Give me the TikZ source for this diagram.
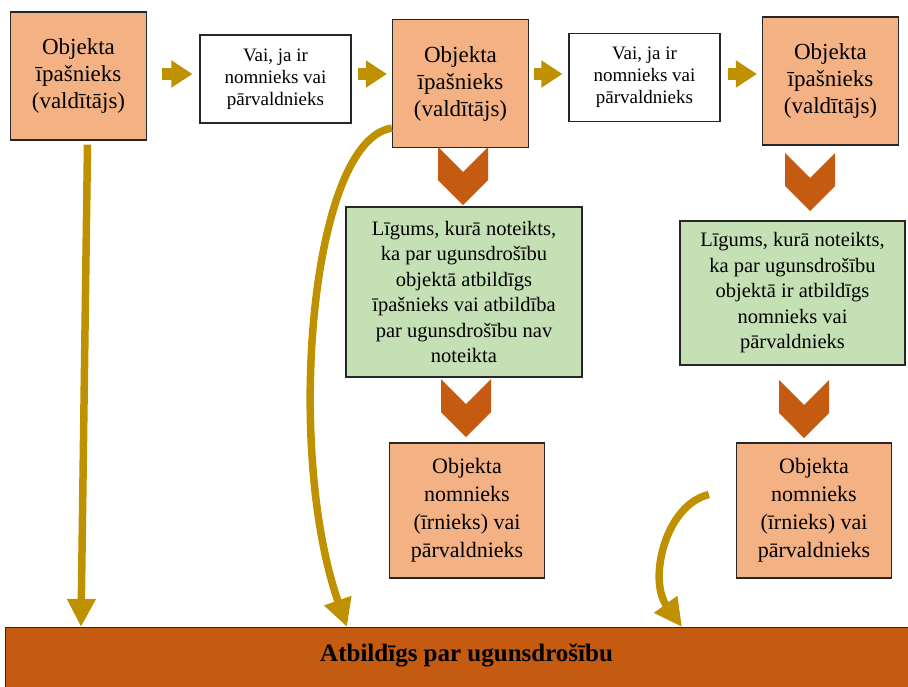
\documentclass[tikz,border=0pt]{standalone}
\usepackage{fontspec}
\setmainfont{Liberation Serif}
\usetikzlibrary{arrows.meta,shapes.symbols}

\definecolor{peach}{HTML}{F4B183}
\definecolor{sage}{HTML}{C5E0B4}
\definecolor{rust}{HTML}{C55A11}
\definecolor{mustard}{HTML}{BF9000}

\tikzset{
  box/.style={draw=black!85, line width=1.2pt, align=center, inner sep=0pt},
  owner/.style={box, fill=peach, minimum width=136pt, minimum height=128pt, font=\fontsize{23}{27}\selectfont},
  tenant/.style={box, fill=peach, minimum width=155pt, minimum height=135pt, font=\fontsize{22}{28}\selectfont},
  ifbox/.style={box, fill=white, minimum width=151pt, minimum height=88pt, font=\fontsize{19}{22}\selectfont},
  deal/.style={box, fill=sage, font=\fontsize{20.5}{25.5}\selectfont},
  chev/.style={signal, signal to=south, signal from=north, fill=rust, inner sep=0pt, minimum width=50pt, minimum height=8pt},
  nextarrow/.style={mustard, line width=12pt, -{Triangle[length=21pt,width=26pt]}},
  goldarc/.style={mustard, line width=7.5pt, -{Triangle[length=28pt,width=27pt]}}
}

\begin{document}
\begin{tikzpicture}[x=1pt, y=-1pt]
\useasboundingbox (0,0) rectangle (908,686);

% top row
\node[owner] (owner1) at (78.5,76) {Objekta\\īpašnieks\\(valdītājs)};
\node[ifbox] (ifrent1) at (275.5,79) {Vai, ja ir\\nomnieks vai\\pārvaldnieks};
\node[owner] (owner2) at (460.5,83.5) {Objekta\\īpašnieks\\(valdītājs)};
\node[ifbox] (ifrent2) at (644.5,77.5) {Vai, ja ir\\nomnieks vai\\pārvaldnieks};
\node[owner] (owner3) at (830.5,81) {Objekta\\īpašnieks\\(valdītājs)};

% contracts and tenants
\node[deal, minimum width=236pt, minimum height=170pt] (deal1) at (464,292)
  {Līgums, kurā noteikts,\\ka par ugunsdrošību\\objektā atbildīgs\\īpašnieks vai atbildība\\par ugunsdrošību nav\\noteikta};
\node[deal, minimum width=225pt, minimum height=144pt] (deal2) at (792.5,293)
  {Līgums, kurā noteikts,\\ka par ugunsdrošību\\objektā ir atbildīgs\\nomnieks vai\\pārvaldnieks};
\node[tenant] (tenant1) at (467,510.5) {Objekta\\nomnieks\\(īrnieks) vai\\pārvaldnieks};
\node[tenant] (tenant2) at (814,510.5) {Objekta\\nomnieks\\(īrnieks) vai\\pārvaldnieks};

% bottom bar
\node[draw=black!85, line width=1.2pt, fill=rust, anchor=north west, minimum width=922pt, minimum height=70pt,
  text depth=19pt, font=\fontsize{25}{30}\selectfont\bfseries] (bar) at (5,627) {Atbildīgs par ugunsdrošību};

% chevrons
\foreach \n/\x/\y in {v1/463/176, v2/466/408, v3/810/182, v4/804/409}
  \node[chev] (\n) at (\x,\y) {};

% arrows along the top row
\coordinate (row) at (0,74);
\foreach \a/\b/\s/\e in {owner1/ifrent1/15/7, ifrent1/owner2/6/5, owner2/ifrent2/5/6, ifrent2/owner3/7/5}
  \draw[nextarrow, shorten <=\s pt, shorten >=\e pt] (\a.east |- row) -- (\b.west |- row);

% arrows to the bar
\foreach \n/\x in {hit1/81, hit2/347, hit3/682}
  \coordinate (\n) at (\x,627);
\draw[goldarc] ([xshift=9pt,yshift=-4pt]owner1.south) -- (hit1);
\draw[goldarc] ([yshift=20pt]owner2.south west) .. controls (310,140) and (285,450) .. (hit2);
\draw[goldarc] ([xshift=-27pt,yshift=16pt]tenant2.west) .. controls (665,505) and (648,580) .. (hit3);
\end{tikzpicture}
\end{document}
